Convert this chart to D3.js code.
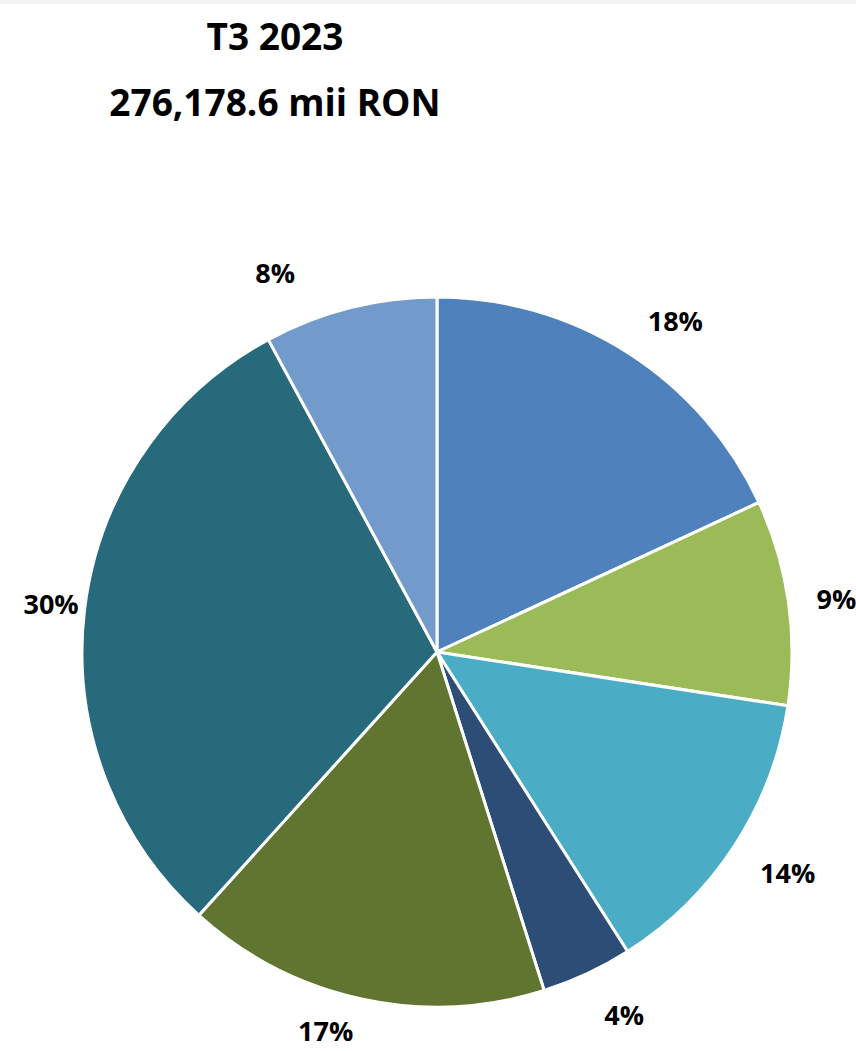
<!DOCTYPE html>
<html>
<head>
<meta charset="utf-8">
<script src="https://cdn.jsdelivr.net/npm/d3@7"></script>
<style>
  html, body { margin: 0; padding: 0; background: #ffffff; }
  svg { display: block; }
  text { font-family: "Open Sans", "Noto Sans", sans-serif; font-weight: 700; fill: #000; }
</style>
</head>
<body>
<svg id="chart" width="856" height="1051"></svg>
<script>
// ---- DATA ----
const titleLines = ["T3 2023", "276,178.6 mii RON"];
const categories = ["A", "B", "C", "D", "E", "F", "G"];
const shares = [18.08, 9.34, 13.56, 4.14, 16.58, 30.42, 7.88];
const labels = ["18%", "9%", "14%", "4%", "17%", "30%", "8%"];
const colors = ["#4F81BD", "#9BBB59", "#4BACC6", "#2C4D75", "#5F7530", "#276A7C", "#729ACA"];

// ---- LAYOUT (label placement, not data) ----
const labelAngleNudgeDeg = [3.2, 0.4, -1.0, -2.3, 4.1, 0.3, -8.9];
const labelDist = [408, 403, 414, 408, 395, 389, 413];

const W = 856, H = 1051;
const cx = 437, cy = 652, R = 355;

const svg = d3.select("#chart");
svg.append("rect").attr("x", 0).attr("y", 0).attr("width", W).attr("height", 4).attr("fill", "#f2f2f2");

svg.append("text").attr("x", 275).attr("y", 50).attr("text-anchor", "middle")
  .style("font-size", "37px").text(titleLines[0]);
svg.append("text").attr("x", 275).attr("y", 116).attr("text-anchor", "middle")
  .style("font-size", "37px").text(titleLines[1]);

const data = categories.map((c, i) => ({ c, v: shares[i], label: labels[i], color: colors[i], i }));
const pie = d3.pie().value(d => d.v).sort(null);
const arcs = pie(data);
const arc = d3.arc().innerRadius(0).outerRadius(R);

const g = svg.append("g").attr("transform", `translate(${cx},${cy})`);
g.selectAll("path").data(arcs).join("path")
  .attr("d", arc)
  .attr("fill", d => d.data.color)
  .attr("stroke", "#ffffff")
  .attr("stroke-width", 3)
  .attr("stroke-linejoin", "round");

g.selectAll("text.lbl").data(arcs).join("text")
  .attr("class", "lbl")
  .attr("text-anchor", "middle")
  .attr("dominant-baseline", "central")
  .style("font-size", "27px")
  .attr("x", d => {
    const a = (d.startAngle + d.endAngle) / 2 + labelAngleNudgeDeg[d.data.i] * Math.PI / 180;
    return labelDist[d.data.i] * Math.sin(a);
  })
  .attr("y", d => {
    const a = (d.startAngle + d.endAngle) / 2 + labelAngleNudgeDeg[d.data.i] * Math.PI / 180;
    return -labelDist[d.data.i] * Math.cos(a);
  })
  .text(d => d.data.label);
</script>
</body>
</html>
